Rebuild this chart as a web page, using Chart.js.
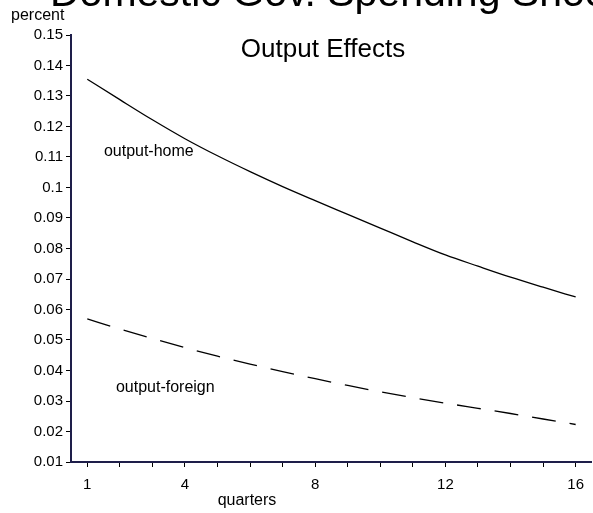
<!DOCTYPE html>
<html>
<head>
<meta charset="utf-8">
<script src="https://cdn.jsdelivr.net/npm/chart.js@4/dist/chart.umd.min.js"></script>
<style>
  html, body { margin: 0; padding: 0; background: #fff; overflow: hidden; }
  canvas { display: block; }
</style>
</head>
<body>
<canvas id="grafico" width="593" height="513"></canvas>
<script>
// datos
const quarters = [1, 2, 3, 4, 5, 6, 7, 8, 9, 10, 11, 12, 13, 14, 15, 16];
const outputHome = [0.1355, 0.1288, 0.1222, 0.1160, 0.1104, 0.1052, 0.1003, 0.0957,
                    0.0912, 0.0867, 0.0822, 0.0779, 0.0742, 0.0706, 0.0673, 0.0641];
const outputForeign = [0.0569, 0.0536, 0.0505, 0.0475, 0.0447, 0.0421, 0.0396, 0.0373,
                       0.0351, 0.0330, 0.0311, 0.0293, 0.0276, 0.0259, 0.0241, 0.0223];
const xTickValues = quarters;
const xTickLabels = [1, 4, 8, 12, 16];
const yTickValues = [0.01, 0.02, 0.03, 0.04, 0.05, 0.06, 0.07, 0.08,
                     0.09, 0.10, 0.11, 0.12, 0.13, 0.14, 0.15];

const FUENTE = '"Liberation Sans", Arial, Helvetica, sans-serif';
const COLOR_EJE = '#1e1e4a';

// textos sueltos (titulos y etiquetas de las series)
const textos = {
    id: 'textos',
    afterDraw(chart) {
        const { ctx, scales: { x, y } } = chart;
        ctx.save();
        ctx.fillStyle = '#000';
        ctx.textBaseline = 'alphabetic';

        ctx.textAlign = 'left';
        ctx.font = '41px ' + FUENTE;
        ctx.fillText('Domestic Gov. Spending Shock', 50, 6);

        ctx.font = '16px ' + FUENTE;
        ctx.fillText('percent', 11, 20);

        ctx.textAlign = 'center';
        ctx.font = '26px ' + FUENTE;
        ctx.fillText('Output Effects', 323, 57);

        ctx.font = '16px ' + FUENTE;
        ctx.fillText('quarters', 247, 505);

        ctx.textAlign = 'left';
        ctx.fillText('output-home', x.getPixelForValue(1.51), y.getPixelForValue(0.1103));
        ctx.fillText('output-foreign', x.getPixelForValue(1.88), y.getPixelForValue(0.0329));
        ctx.restore();
    }
};

new Chart(document.getElementById('grafico'), {
    type: 'line',
    data: {
        datasets: [
            {
                label: 'output-home',
                data: quarters.map((q, i) => ({ x: q, y: outputHome[i] })),
                borderColor: '#000',
                borderWidth: 1.3,
                pointRadius: 0,
                cubicInterpolationMode: 'monotone'
            },
            {
                label: 'output-foreign',
                data: quarters.map((q, i) => ({ x: q, y: outputForeign[i] })),
                borderColor: '#000',
                borderWidth: 1.3,
                borderDash: [24, 14],
                pointRadius: 0,
                cubicInterpolationMode: 'monotone'
            }
        ]
    },
    options: {
        responsive: false,
        animation: false,
        devicePixelRatio: 1,
        layout: { padding: { top: 35, right: 0, bottom: 0, left: 0 } },
        plugins: {
            legend: { display: false },
            tooltip: { enabled: false },
            title: { display: false }
        },
        scales: {
            x: {
                type: 'linear',
                min: 0.5,
                max: 16.5,
                afterBuildTicks: s => { s.ticks = xTickValues.map(v => ({ value: v })); },
                afterFit: s => { s.height = 51; },
                ticks: {
                    autoSkip: false,
                    maxRotation: 0,
                    padding: 9,
                    color: '#000',
                    font: { family: FUENTE, size: 15 },
                    callback: v => xTickLabels.includes(v) ? String(v) : ''
                },
                grid: { drawOnChartArea: false, drawTicks: true, tickLength: 5, color: '#000' },
                border: { color: COLOR_EJE, width: 2 }
            },
            y: {
                min: 0.01,
                max: 0.15,
                afterBuildTicks: s => { s.ticks = yTickValues.map(v => ({ value: v })); },
                afterFit: s => { s.width = 71; },
                ticks: {
                    padding: 3,
                    color: '#000',
                    font: { family: FUENTE, size: 15 },
                    callback: v => String(+v.toFixed(2))
                },
                grid: { drawOnChartArea: false, drawTicks: true, tickLength: 5, color: '#000' },
                border: { color: COLOR_EJE, width: 2 }
            }
        }
    },
    plugins: [textos]
});
</script>
</body>
</html>
